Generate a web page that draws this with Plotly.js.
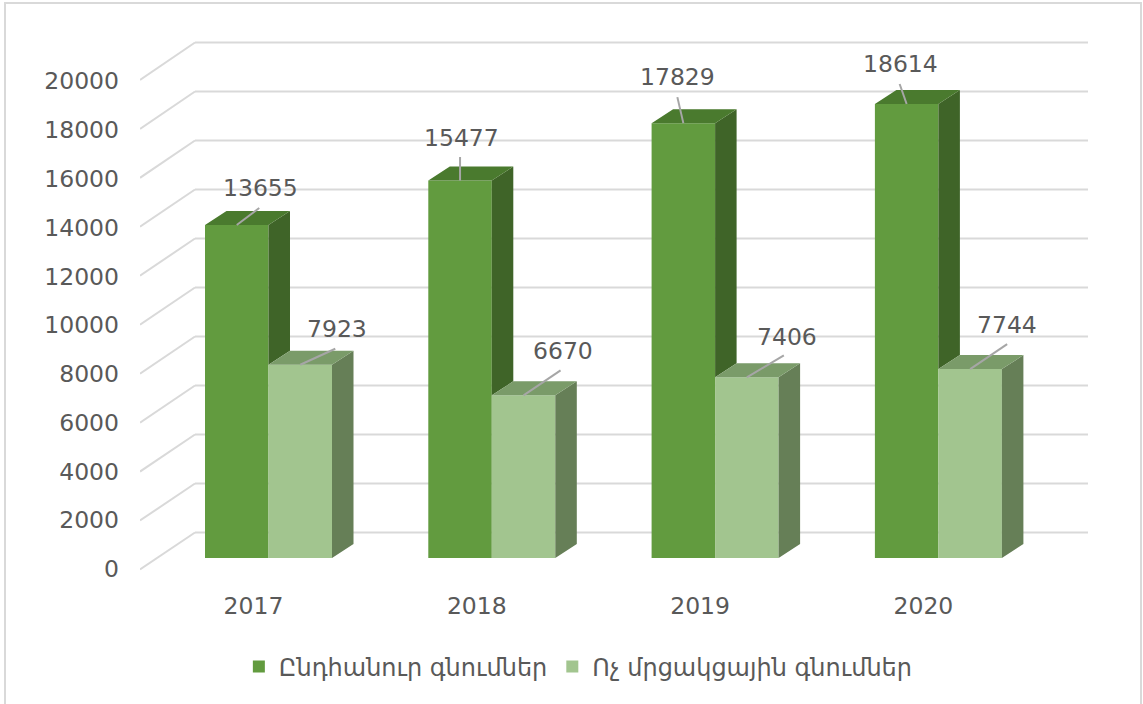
<!DOCTYPE html>
<html>
<head>
<meta charset="utf-8">
<script src="https://cdn.plot.ly/plotly-3.0.1.min.js"></script>
<style>html,body{margin:0;padding:0;background:#fff;}#chart{width:1143px;height:704px;}</style>
</head>
<body>
<div id="chart"></div>
<script>
// ---- data ----
const years = ['2017', '2018', '2019', '2020'];
const totalPurchases = [13655, 15477, 17829, 18614];
const nonCompetitive = [7923, 6670, 7406, 7744];
const seriesNames = ['Ընդհանուր գնումներ', 'Ոչ մրցակցային գնումներ'];
const yTicks = [0, 2000, 4000, 6000, 8000, 10000, 12000, 14000, 16000, 18000, 20000];
const yTickText = ['0', '2000', '4000', '6000', '8000', '10000', '12000', '14000', '16000', '18000', '20000'];

// ---- styles / layout constants ----
const colors = {
  darkFront: '#629B3F', darkSide: '#3F6428', darkTop: '#4A7A2E',
  lightFront: '#A2C58F', lightSide: '#667F57', lightTop: '#7A9B69',
  grid: '#D9D9D9', text: '#595959', leader: '#A6A6A6'
};
const FONT = 'DejaVu Sans, Noto Sans, sans-serif';
const FS = 23.5;
const W = 1143, H = 704;
const plotL = 140, plotR = 1088, plotT = 30, plotB = 580;
const catPx0 = 268.5, catPxStep = 223.3;   // pixel centre of first group, spacing
const baselinePx = 558, pxPerUnit = 0.02439; // front face projection
const barW = 63.5 / catPxStep;              // bar width in category units
const depthX = 21.5 / catPxStep;            // 3D depth offset (x, category units)
const depthY = 14 / pxPerUnit;              // 3D depth offset (y, value units)

const pxToX = px => (px - catPx0) / catPxStep;
const pxToY = py => (baselinePx - py) / pxPerUnit;
const xRange = [pxToX(plotL), pxToX(plotR)];
const yRange = [pxToY(plotB), pxToY(plotT)];

// label placement offsets in pixels (text centre, leader end), per series
const darkLabelOff = [[23.5, 37], [1, 43], [-6, 46], [-6, 40]];
const lightLabelOff = [[37, 36], [39, 44], [40, 40], [37, 44]];
const darkLeader = [[22.5, 17], [0, 23.5], [-6, 26], [-7, 20]];
const lightLeader = [[35, 16], [37, 25], [37, 22], [37, 25]];

const idx = years.map((_, i) => i);

// ---- faces (computed from values) ----
function poly(pointsList) {
  const xs = [], ys = [];
  pointsList.forEach(pts => {
    pts.forEach(p => { xs.push(p[0]); ys.push(p[1]); });
    xs.push(pts[0][0]); ys.push(pts[0][1]);
    xs.push(null); ys.push(null);
  });
  return {xs, ys};
}
const darkSidePolys = idx.map(i => {
  const c = i, vl = nonCompetitive[i], vd = totalPurchases[i];
  return [[c, vl], [c + depthX, vl + depthY], [c + depthX, vd + depthY], [c, vd]];
});
const darkTopPolys = idx.map(i => {
  const c = i, vd = totalPurchases[i];
  return [[c - barW, vd], [c, vd], [c + depthX, vd + depthY], [c - barW + depthX, vd + depthY]];
});
const lightSidePolys = idx.map(i => {
  const c = i + barW, vl = nonCompetitive[i];
  return [[c, 0], [c + depthX, depthY], [c + depthX, vl + depthY], [c, vl]];
});
const lightTopPolys = idx.map(i => {
  const c = i, vl = nonCompetitive[i];
  return [[c, vl], [c + barW, vl], [c + barW + depthX, vl + depthY], [c + depthX, vl + depthY]];
});
function faceTrace(polys, color) {
  const p = poly(polys);
  return {type: 'scatter', mode: 'lines', x: p.xs, y: p.ys, fill: 'toself',
    fillcolor: color, line: {width: 0, color: color}, hoverinfo: 'skip', showlegend: false};
}

const traces = [
  {type: 'bar', name: seriesNames[0], x: idx, y: totalPurchases, width: barW, offset: -barW,
   marker: {color: colors.darkFront, line: {width: 0}}},
  {type: 'bar', name: seriesNames[1], x: idx, y: nonCompetitive, width: barW, offset: 0,
   marker: {color: colors.lightFront, line: {width: 0}}},
  faceTrace(darkSidePolys, colors.darkSide),
  faceTrace(darkTopPolys, colors.darkTop),
  faceTrace(lightSidePolys, colors.lightSide),
  faceTrace(lightTopPolys, colors.lightTop)
];

// ---- gridlines: back wall + floor diagonals ----
const backPx0 = 532.5, backPxPerUnit = 0.0245, backLeftPx = 195;
const frontPx0 = 569.5, frontPxPerUnit = 0.02448;
const shapes = [];
yTicks.forEach(v => {
  const yFront = pxToY(frontPx0 - v * frontPxPerUnit);
  const yBack = pxToY(backPx0 - v * backPxPerUnit);
  shapes.push({type: 'line', layer: 'below', xref: 'x', yref: 'y',
    x0: xRange[0], y0: yFront, x1: pxToX(backLeftPx), y1: yBack,
    line: {color: colors.grid, width: 2}});
  shapes.push({type: 'line', layer: 'below', xref: 'x', yref: 'y',
    x0: pxToX(backLeftPx), y0: yBack, x1: xRange[1], y1: yBack,
    line: {color: colors.grid, width: 2}});
});
// leader lines
idx.forEach(i => {
  shapes.push({type: 'line', xref: 'x', yref: 'y', xsizemode: 'pixel', ysizemode: 'pixel',
    xanchor: i - barW / 2, yanchor: totalPurchases[i], x0: 0, y0: 0,
    x1: darkLeader[i][0], y1: darkLeader[i][1], line: {color: colors.leader, width: 2}});
  shapes.push({type: 'line', xref: 'x', yref: 'y', xsizemode: 'pixel', ysizemode: 'pixel',
    xanchor: i + barW / 2, yanchor: nonCompetitive[i], x0: 0, y0: 0,
    x1: lightLeader[i][0], y1: lightLeader[i][1], line: {color: colors.leader, width: 2}});
});
// chart border
shapes.push({type: 'rect', xref: 'paper', yref: 'paper', layer: 'below',
  x0: (5 - plotL) / (plotR - plotL), x1: (1141 - plotL) / (plotR - plotL),
  y0: (plotB - 710) / (plotB - plotT), y1: (plotB - 3) / (plotB - plotT),
  line: {color: colors.grid, width: 2}, fillcolor: 'rgba(0,0,0,0)'});

// ---- data labels ----
const annotations = [];
idx.forEach(i => {
  annotations.push({x: i - barW / 2, y: totalPurchases[i], xref: 'x', yref: 'y',
    text: String(totalPurchases[i]), showarrow: false, xanchor: 'center', yanchor: 'middle',
    xshift: darkLabelOff[i][0], yshift: darkLabelOff[i][1],
    font: {family: FONT, size: FS, color: colors.text}});
  annotations.push({x: i + barW / 2, y: nonCompetitive[i], xref: 'x', yref: 'y',
    text: String(nonCompetitive[i]), showarrow: false, xanchor: 'center', yanchor: 'middle',
    xshift: lightLabelOff[i][0], yshift: lightLabelOff[i][1],
    font: {family: FONT, size: FS, color: colors.text}});
});

const layout = {
  width: W, height: H, autosize: false,
  margin: {l: plotL, r: W - plotR, t: plotT, b: H - plotB, pad: 0},
  paper_bgcolor: '#FFFFFF', plot_bgcolor: 'rgba(0,0,0,0)',
  font: {family: FONT, color: colors.text, size: FS},
  barmode: 'overlay',
  showlegend: true,
  legend: {orientation: 'h', xref: 'container', yref: 'container', x: 0.506, y: 1 - 667 / H,
    xanchor: 'center', yanchor: 'middle', font: {family: FONT, size: 24, color: colors.text},
    traceorder: 'normal', itemwidth: 30},
  xaxis: {range: xRange, tickmode: 'array', tickvals: idx, ticktext: years,
    showgrid: false, zeroline: false, showline: false, ticks: '', fixedrange: true,
    ticklabelshift: -15, ticklabelstandoff: 9,
    tickfont: {family: FONT, size: FS, color: colors.text}},
  yaxis: {range: yRange, tickmode: 'array', tickvals: yTicks, ticktext: yTickText,
    showgrid: false, zeroline: false, showline: false, ticks: '', fixedrange: true,
    ticklabelshift: 11, ticklabelstandoff: 20,
    tickfont: {family: FONT, size: FS, color: colors.text}},
  shapes: shapes,
  annotations: annotations
};

Plotly.newPlot('chart', traces, layout, {displayModeBar: false, staticPlot: true});
</script>
</body>
</html>
